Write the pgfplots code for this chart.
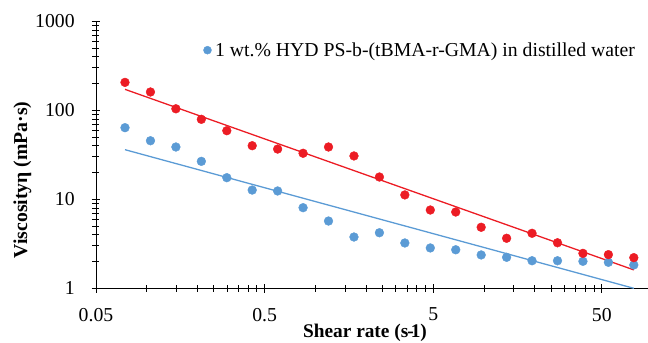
\documentclass[border=0pt]{standalone}
\usepackage{pgfplots}
\pgfplotsset{compat=1.18}
\usepackage{fontspec}
\setmainfont{Liberation Serif}
\definecolor{myred}{HTML}{EC1C24}
\definecolor{myblue}{HTML}{5B9BD5}
\begin{document}
\begin{tikzpicture}
\path[use as bounding box] (-96bp,-54.7bp) rectangle (552bp,288.3bp);
\begin{axis}[
  scale only axis,
  width=552bp, height=267bp,
  xmode=log, ymode=log,
  xmin=0.05, xmax=94, ymin=1, ymax=1000,
  axis lines=left,
  axis line style={-, black, line width=0.8pt},
  tick align=center,
  major tick length=9bp, minor tick length=7bp,
  every tick/.style={black, line width=0.8pt},
  xtick={0.05,0.5,5,50},
  xticklabels={0.05,0.5,5,50},
  minor xtick={0.1,0.15,0.2,0.25,0.3,0.35,0.4,0.45,1,1.5,2,2.5,3,3.5,4,4.5,10,15,20,25,30,35,40,45},
  ytick={1,10,100,1000},
  yticklabels={1,10,100,1000},
  minor ytick={2,3,4,5,6,7,8,9,20,30,40,50,60,70,80,90,200,300,400,500,600,700,800,900},
  /pgf/number format/assume math mode=true,
  tick label style={font=\fontsize{19.8}{22}\selectfont},
  yticklabel style={xshift=-13.3bp},
  xticklabel style={yshift=-11.7bp},
  xlabel={\textbf{Shear rate (s\kern-1pt-\kern-3pt1)}},
  ylabel={\textbf{Viscosityη (mPa·s)}},
  every axis x label/.style={at={(axis description cs:0.4873,-0.184)}, anchor=base, font=\fontsize{19.4}{22}\selectfont},
  every axis y label/.style={at={(axis description cs:-0.1332,0.406)}, anchor=center, rotate=90, font=\fontsize{19.8}{22}\selectfont},
  legend style={draw=none, fill=none, at={(axis description cs:0.194,0.890)}, anchor=west, font=\fontsize{19.8}{22}\selectfont, inner sep=0pt, nodes={inner sep=3.5bp}},
  legend image code/.code={\fill[#1] (0bp,0.5bp) circle (4bp);},
  clip=false,
]
\addplot[only marks, mark=*, color=myblue, mark options={fill=myblue, draw=myblue}, mark size=4.4bp] coordinates {
(0.0743,63.8) (0.1052,45.5) (0.1489,38.7) (0.2108,26.7) (0.2985,17.5)
(0.4222,12.7) (0.5975,12.4) (0.8458,8.05) (1.197,5.7) (1.695,3.77)
(2.399,4.21) (3.396,3.23) (4.807,2.84) (6.803,2.71) (9.630,2.37)
(13.63,2.23) (19.29,2.04) (27.31,2.04) (38.66,2.01) (54.72,1.96) (77.45,1.83)
};
\addlegendentry{1 wt.\% HYD PS-b-(tBMA-r-GMA) in distilled water}
\addplot[only marks, mark=*, color=myred, mark options={fill=myred, draw=myred}, mark size=4.4bp, forget plot] coordinates {
(0.0743,206) (0.1052,160.6) (0.1489,104) (0.2108,79.2) (0.2985,59)
(0.4222,40) (0.5975,36.7) (0.8458,32.9) (1.197,38.7) (1.695,30.7)
(2.399,17.8) (3.396,11.2) (4.807,7.58) (6.803,7.2) (9.630,4.85)
(13.63,3.65) (19.29,4.15) (27.31,3.25) (38.66,2.47) (54.72,2.39) (77.45,2.21)
};
\addplot[myred, line width=1.3pt, forget plot] coordinates {(0.0743,172) (77.45,1.61)};
\addplot[myblue, line width=1.3pt, forget plot] coordinates {(0.0743,36.1) (77.45,1.0)};
\end{axis}
\end{tikzpicture}
\end{document}
